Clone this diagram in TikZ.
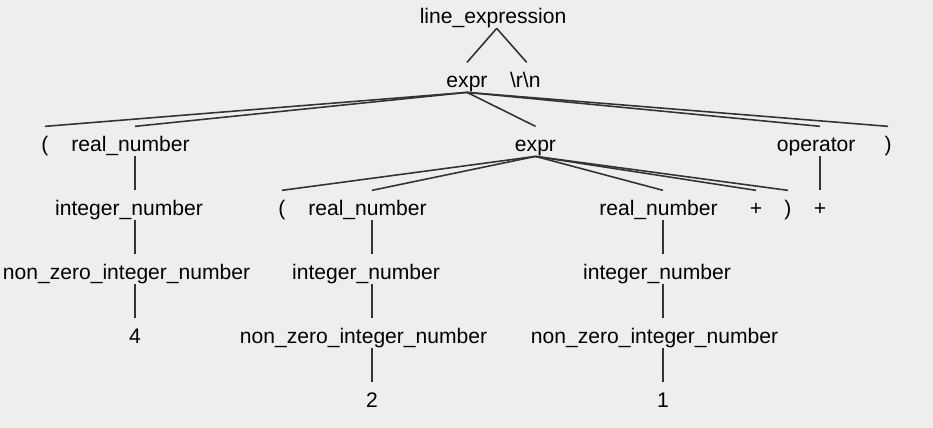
\documentclass[tikz,border=0pt]{standalone}
\usepackage{fontspec}
\setmainfont{Liberation Sans}
\definecolor{bgcol}{HTML}{EEEEEE}
\definecolor{edgecol}{HTML}{333333}

\begin{document}
\begin{tikzpicture}[x=0.02cm, y=-0.02cm,
    sym/.style={anchor=base, inner sep=0pt, text height=14.4pt, text depth=2.3pt,
      font=\fontsize{12}{14}\selectfont},
    pad/.style={execute at end node={\kern#1}},
    edge/.style={draw=edgecol, line width=0.9pt}]
      \fill[bgcol] (0,0) rectangle (933,428);
      \useasboundingbox (0,0) rectangle (933,428);

      % Nodes
      \node[sym, pad=4.2pt] (lineexpr) at (496.7,24) {line\_expression};
      \node[sym] (expr) at (467,88) {expr};
      \node[sym, pad=1.6pt] (crlf) at (526.7,88) {\textbackslash r\textbackslash n};
      \node[sym] (lpar) at (45,152) {(};
      \node[sym, pad=5.1pt] (realA) at (135,152) {real\_number};
      \node[sym] (subexpr) at (535.5,152) {expr};
      \node[sym, pad=4.3pt] (oper) at (820,152) {operator};
      \node[sym] (rpar) at (888,152) {)};
      \node[sym, pad=6.8pt] (intA) at (135,216) {integer\_number};
      \node[sym] (lparB) at (282,216) {(};
      \node[sym, pad=5.1pt] (realB) at (372,216) {real\_number};
      \node[sym, pad=5.1pt] (realC) at (663,216) {real\_number};
      \node[sym] (plusC) at (756,216) {+};
      \node[sym] (rparB) at (788,216) {)};
      \node[sym] (plus) at (820,216) {+};
      \node[sym, pad=9.6pt] (nzA) at (135,280) {non\_zero\_integer\_number};
      \node[sym, pad=6.8pt] (intB) at (372,280) {integer\_number};
      \node[sym, pad=6.8pt] (intC) at (663,280) {integer\_number};
      \node[sym] (four) at (135,344) {4};
      \node[sym, pad=9.6pt] (nzB) at (372,344) {non\_zero\_integer\_number};
      \node[sym, pad=9.6pt] (nzC) at (663,344) {non\_zero\_integer\_number};
      \node[sym] (two) at (372,408) {2};
      \node[sym] (one) at (663,408) {1};

      % Edges
      \draw[edge] (lineexpr.south) -- (expr.north);
      \draw[edge] (lineexpr.south) -- (crlf.north);
      \draw[edge] (expr.south) -- (lpar.north);
      \draw[edge] (expr.south) -- (realA.north);
      \draw[edge] (expr.south) -- (subexpr.north);
      \draw[edge] (expr.south) -- (oper.north);
      \draw[edge] (expr.south) -- (rpar.north);
      \draw[edge] (realA.south) -- (intA.north);
      \draw[edge] (intA.south) -- (nzA.north);
      \draw[edge] (nzA.south) -- (four.north);
      \draw[edge] (subexpr.south) -- (lparB.north);
      \draw[edge] (subexpr.south) -- (realB.north);
      \draw[edge] (subexpr.south) -- (realC.north);
      \draw[edge] (subexpr.south) -- (plusC.north);
      \draw[edge] (subexpr.south) -- (rparB.north);
      \draw[edge] (oper.south) -- (plus.north);
      \draw[edge] (realB.south) -- (intB.north);
      \draw[edge] (intB.south) -- (nzB.north);
      \draw[edge] (nzB.south) -- (two.north);
      \draw[edge] (realC.south) -- (intC.north);
      \draw[edge] (intC.south) -- (nzC.north);
      \draw[edge] (nzC.south) -- (one.north);
    \end{tikzpicture}
\end{document}
